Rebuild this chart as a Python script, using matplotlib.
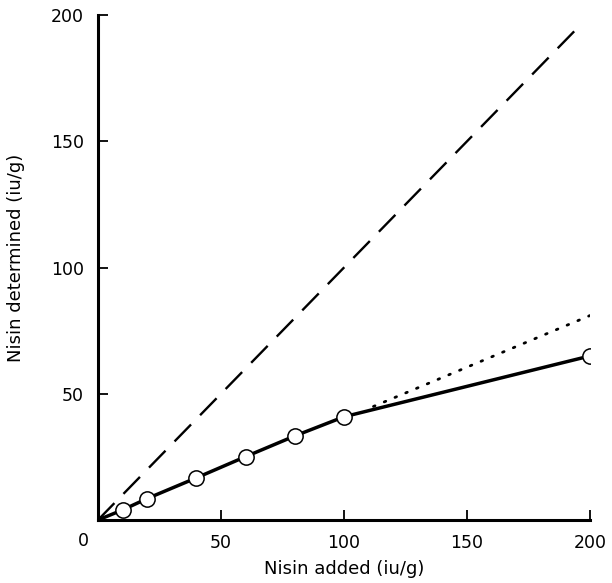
import numpy as np
import matplotlib
matplotlib.use("Agg")
import matplotlib.pyplot as plt

# data
nisin_added = [0, 10, 20, 40, 60, 80, 100, 200]
nisin_found = [0, 4, 8.5, 16.7, 25.1, 33.3, 40.9, 65]
equality_x = [0, 194]
equality_y = [0, 194]
extrap_x = [112, 200]
extrap_y = [45, 81]
tick_vals = [50, 100, 150, 200]

plt.rcParams['font.family'] = ['DejaVu Sans']

fig = plt.figure(figsize=(6.12, 5.83), dpi=100)
ax = fig.add_axes([0.160, 0.108, 0.804, 0.866])

ax.plot(equality_x, equality_y, color="black", lw=1.7, linestyle=(0, (10, 5.5)))
ax.plot(extrap_x, extrap_y, color="black", lw=2, linestyle=(0, (0.6, 3.6)),
        dash_capstyle="round")
ax.plot(nisin_added, nisin_found, color="black", lw=2.5, zorder=3)
ax.plot(nisin_added[1:], nisin_found[1:], "o", ms=11, mfc="white",
        mec="black", mew=1.1, zorder=4)

ax.set_xlim(0, 200)
ax.set_ylim(0, 200)
ax.set_xticks(tick_vals)
ax.set_yticks(tick_vals)
ax.tick_params(direction="in", length=7, width=1.3, labelsize=12.5, pad=10)
ax.spines["top"].set_visible(False)
ax.spines["right"].set_visible(False)
ax.spines["left"].set_linewidth(2.2)
ax.spines["bottom"].set_linewidth(2.2)
for sp in ax.spines.values():
    sp.set_capstyle("projecting")

ax.text(-0.03, -0.042, "0", transform=ax.transAxes, fontsize=12.5,
        ha="center", va="center")
ax.set_xlabel("Nisin added (iu/g)", fontsize=13)
ax.set_ylabel("Nisin determined (iu/g)", fontsize=13)
ax.xaxis.set_label_coords(0.5, -0.079)
ax.yaxis.set_label_coords(-0.148, 0.519)

fig.savefig("out.png", dpi=100)
